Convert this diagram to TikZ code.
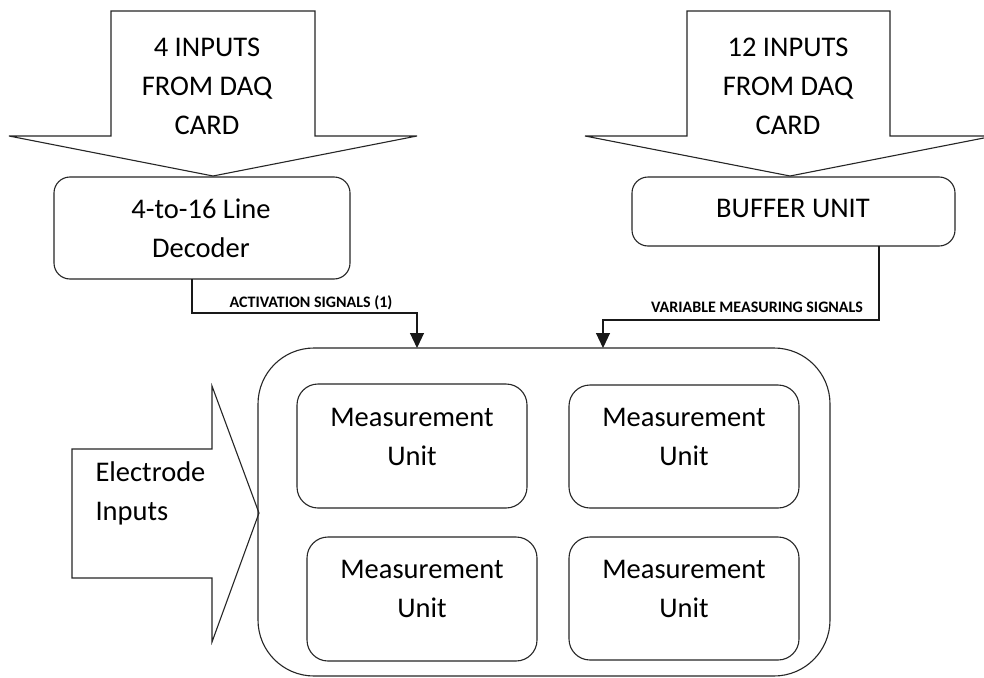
\documentclass[tikz,border=0pt]{standalone}
\usepackage{fontspec}
\setmainfont{Carlito}
\usetikzlibrary{arrows.meta}

\tikzset{
  outline/.style={draw=black!85, line width=1.1pt},
  blockbox/.style={outline, rounded corners=16pt},
  unitbox/.style={outline, rounded corners=21pt},
  bigtext/.style={font=\fontsize{28.5}{39}\selectfont, align=center, text=black},
  tag/.style={font=\bfseries\fontsize{16}{19}\selectfont, text=black, inner sep=0pt, anchor=base},
  wire/.style={draw=black!90, line width=1.1pt},
  feed/.style={wire, -{Triangle[width=14pt,length=15pt]}},
}

\begin{document}
\begin{tikzpicture}[x=1pt, y=-1pt]
\clip (0,0) rectangle (984,677);
\fill[white] (0,0) rectangle (984,677);

% block arrows from the DAQ card
\draw[outline, line join=miter] (111,11) -- (315,11) -- (315,136) -- (417,136) -- (213,176)
  -- (9,136) -- (111,136) -- cycle;
\node[bigtext] (inA) at (207,86) {4 INPUTS\\FROM DAQ\\CARD};

\draw[outline, line join=miter] (687,11) -- (890,11) -- (890,136) -- (994,136) -- (790,176)
  -- (585,136) -- (687,136) -- cycle;
\node[bigtext] (inB) at (788,86) {12 INPUTS\\FROM DAQ\\CARD};

% decoder and buffer
\draw[blockbox] (54,177) rectangle (350,279);
\node[bigtext] (dec) at (201,228) {4-to-16 Line\\Decoder};
\coordinate (decout) at (192,279);

\draw[blockbox] (632,177) rectangle (955,246);
\node[bigtext] (buf) at (793,208) {BUFFER UNIT};
\coordinate (bufout) at (879,246);

% measurement block
\draw[outline, rounded corners=56pt] (258,348) rectangle (830,676);
\coordinate (actin) at (417,348);
\coordinate (varin) at (603,348);

\draw[unitbox] (297,384) rectangle (527,508);
\node[bigtext] (mu1) at (412,437) {Measurement\\Unit};
\draw[unitbox] (569,385) rectangle (799,508);
\node[bigtext] (mu2) at (684,437) {Measurement\\Unit};
\draw[unitbox] (307,537) rectangle (537,661);
\node[bigtext] (mu3) at (422,589) {Measurement\\Unit};
\draw[unitbox] (569,537) rectangle (799,660);
\node[bigtext] (mu4) at (684,589) {Measurement\\Unit};

% electrode input arrow
\draw[outline, line join=miter] (72,449) -- (212,449) -- (212,386) -- (259,513)
  -- (212,642) -- (212,578) -- (72,578) -- cycle;
\node[bigtext, align=left, anchor=base west] (elec) at (92,520) {Electrode\\Inputs};

% signal lines
\draw[feed] (decout) |- (417,313) -- (actin);
\node[tag] (actlbl) at (311,307) {ACTIVATION SIGNALS (1)};
\draw[feed] (bufout) |- (603,320) -- (varin);
\node[tag] (varlbl) at (757,312) {VARIABLE MEASURING SIGNALS};
\end{tikzpicture}
\end{document}
